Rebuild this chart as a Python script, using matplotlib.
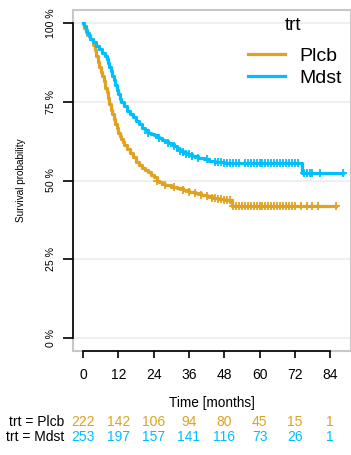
"""Kaplan-Meier curves by treatment with number-at-risk table."""
import matplotlib
matplotlib.use("Agg")
import matplotlib.pyplot as plt
from matplotlib.lines import Line2D
from matplotlib.patches import Rectangle
from matplotlib.transforms import blended_transform_factory
import numpy as np

plt.rcParams['font.family'] = ['Liberation Sans', 'DejaVu Sans']

# Step points (months, survival)
plcb_t = [0, 0.5, 1, 1.5, 2.5, 3.5, 4, 4.5, 5, 5.5, 6, 6.5, 7, 7.5, 8, 8.5,
          9, 9.5, 10, 10.5, 11, 11.5, 12, 12.5, 13, 13.5, 14, 15, 16, 17,
          18, 19, 20, 21, 22, 23, 24, 25, 26, 27, 28, 30, 32, 34, 36, 38,
          40, 42, 44, 46, 48, 50.5, 86]
plcb_s = [1.0, 0.985, 0.972, 0.962, 0.948, 0.93, 0.915, 0.895, 0.875, 0.86,
          0.845, 0.83, 0.815, 0.795, 0.78, 0.762, 0.742, 0.725, 0.71, 0.695,
          0.68, 0.665, 0.652, 0.642, 0.632, 0.622, 0.613, 0.60, 0.587, 0.573,
          0.56, 0.548, 0.54, 0.533, 0.526, 0.518, 0.51, 0.50, 0.495, 0.49,
          0.486, 0.48, 0.475, 0.47, 0.465, 0.46, 0.455, 0.45, 0.445, 0.44,
          0.437, 0.42, 0.42]
plcb_cens = [25, 28, 31, 34, 36, 38, 40, 42, 44, 45, 46, 47, 48,
             49, 50, 51, 52, 53, 54, 55, 56, 57, 58, 59, 60, 61, 62, 63, 64,
             65, 66, 67, 68, 69, 70, 71, 72, 74, 76, 78, 80, 86]

mdst_t = [0, 0.5, 1, 1.5, 2, 2.5, 3.5, 4.5, 5.5, 6.5, 7.5, 8, 8.5, 9, 9.5,
          10, 10.5, 11, 11.5, 12, 12.5, 13, 14, 15, 16, 17, 18, 19, 20, 21,
          22, 23, 24, 25, 26, 27, 28, 29, 30, 31, 32, 33, 34, 35, 37, 39,
          41, 43, 45, 48, 53, 74.5, 88.5]
mdst_s = [1.0, 0.99, 0.978, 0.968, 0.958, 0.948, 0.938, 0.928, 0.918, 0.905,
          0.895, 0.885, 0.872, 0.86, 0.847, 0.832, 0.818, 0.803, 0.788, 0.773,
          0.758, 0.748, 0.735, 0.722, 0.71, 0.70, 0.69, 0.68, 0.668, 0.66,
          0.652, 0.647, 0.643, 0.639, 0.635, 0.63, 0.625, 0.62, 0.615, 0.61,
          0.60, 0.595, 0.59, 0.585, 0.578, 0.572, 0.567, 0.563, 0.56, 0.557,
          0.555, 0.523, 0.523]
mdst_cens = [22, 26, 29, 31, 33, 34, 35, 36, 37, 39, 42, 45, 46,
             47, 48, 49, 50, 51, 52, 53, 55, 56, 57, 58, 59, 60, 61, 62, 63,
             64, 65, 66, 67, 68, 69, 70, 71, 72, 73, 75, 76, 77, 78, 80.5,
             88.5]

groups = ['Plcb', 'Mdst']
colors = ['#E0A21F', '#00BFFF']
risk_times = [0, 12, 24, 36, 48, 60, 72, 84]
risk_plcb = [222, 142, 106, 94, 80, 45, 15, 1]
risk_mdst = [253, 197, 157, 141, 116, 73, 26, 1]

fig = plt.figure(figsize=(3.51, 4.55), dpi=100)
ax = fig.add_axes((73 / 351, 1 - 351 / 455, 1 - 73 / 351, 341 / 455))
ax.set_xlim(-3.4, 91.1)
ax.set_ylim(-0.041, 1.041)

for yv in [0, 0.25, 0.5, 0.75, 1.0]:
    ax.axhline(yv, color='#EBEBEB', lw=1.1, zorder=0)

curves = [(plcb_t, plcb_s, plcb_cens), (mdst_t, mdst_s, mdst_cens)]
for (t, s, cens), col in zip(curves, colors):
    t, s = np.array(t), np.array(s)
    ax.step(t, s, where='post', color=col, lw=2.3, zorder=3)
    cens = np.array(cens)
    idx = np.searchsorted(t, cens, side='right') - 1
    ax.plot(cens, s[idx], ls='none', marker='+', ms=6, mew=1.3,
            color=col, zorder=3)

# Grey panel frame plus offset black axis lines
ax.add_patch(Rectangle((0, 0), 1, 1, transform=ax.transAxes, fill=False,
                       ec='#C8C8C8', lw=1.5, clip_on=False, zorder=1))
for side in ['top', 'right']:
    ax.spines[side].set_visible(False)
ax.spines['left'].set_bounds(0, 1)
ax.spines['bottom'].set_bounds(0, 84)
for side in ['left', 'bottom']:
    ax.spines[side].set_linewidth(1.2)
    ax.spines[side].set_zorder(2)

ax.set_yticks([0, 0.25, 0.5, 0.75, 1.0],
              labels=['0 %', '25 %', '50 %', '75 %', '100 %'])
ax.set_xticks(risk_times)
for lab in ax.get_yticklabels():
    lab.set_rotation(90)
    lab.set_va('center')
ax.tick_params(axis='y', length=7, width=1.2, pad=5.5, labelsize=7.6)
ax.tick_params(axis='x', length=5, width=1.2, pad=7.5, labelsize=10)

ax.set_xlabel('Time [months]', fontsize=9.8, labelpad=10)
ax.set_ylabel('Survival probability', fontsize=7.2, labelpad=14)

# Legend: title placed on its own, entries below it
fig.text(293 / 351, 1 - 25 / 455, 'trt', ha='center', va='center',
         fontsize=13.5)
handles = [Line2D([], [], color=c, lw=2.3) for c in colors]
ax.legend(handles, groups, frameon=False, fontsize=14, loc='center left',
          bbox_to_anchor=(248 / 351, 1 - 67 / 455),
          bbox_transform=fig.transFigure, borderpad=0, borderaxespad=0,
          handlelength=1.9, handletextpad=0.75, labelspacing=0.2)

# Number at risk table
tr = blended_transform_factory(ax.transData, fig.transFigure)
rows = [('trt = Plcb', risk_plcb, 1 - 422 / 455, colors[0]),
        ('trt = Mdst', risk_mdst, 1 - 437 / 455, colors[1])]
for label, vals, yy, col in rows:
    fig.text(64 / 351, yy, label, ha='right', va='center', fontsize=10)
    for tx, v in zip(risk_times, vals):
        ax.text(tx, yy, str(v), transform=tr, ha='center', va='center',
                fontsize=10, color=col, clip_on=False)

fig.savefig('out.png', dpi=100)
